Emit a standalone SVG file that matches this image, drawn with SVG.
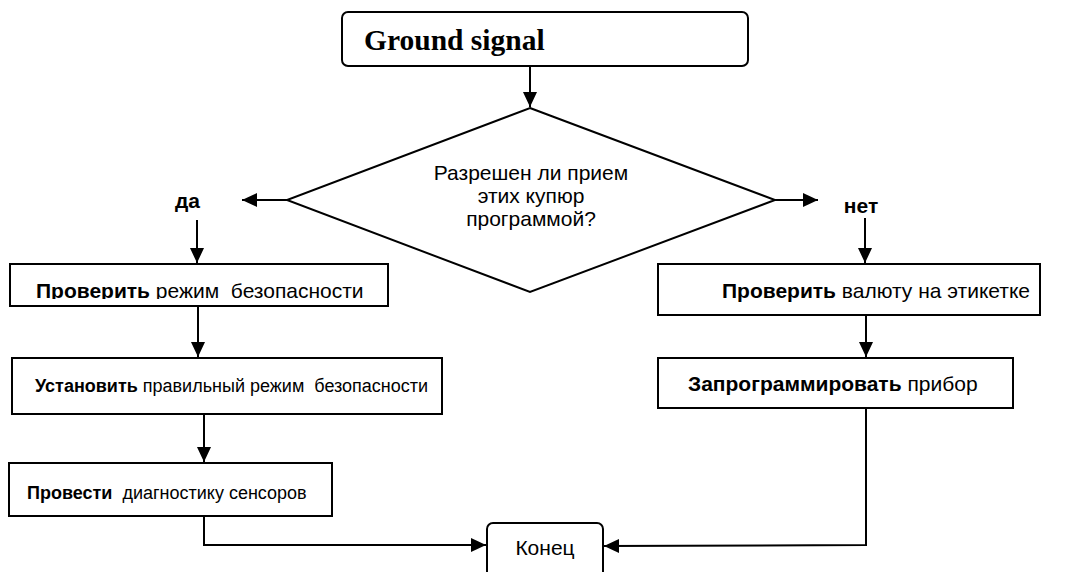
<svg xmlns="http://www.w3.org/2000/svg" width="1090" height="572" viewBox="0 0 1090 572">
<style>
.box{fill:#fff;stroke:#000;stroke-width:2}
.t{font-family:"Liberation Sans",Arial,sans-serif;font-size:21px;fill:#000;white-space:pre}
.s{font-size:18px}
.b{font-weight:bold}
.c{fill:none;stroke:#000;stroke-width:2}
</style>
<defs>
<marker id="ah" markerUnits="userSpaceOnUse" markerWidth="16" markerHeight="16" viewBox="0 0 16 16" refX="15" refY="8" orient="auto">
<path d="M0,1 L15,8 L0,15 Z" fill="#000"/>
</marker>
<clipPath id="clip1"><rect x="10" y="264" width="378" height="35"/></clipPath>
</defs>
<rect width="1090" height="572" fill="#fff"/>
<g id="start">
<rect class="box" x="342" y="12" width="406" height="54" rx="6"/>
<text x="364" y="50" font-family="'Liberation Serif','Times New Roman',serif" font-size="29.5" font-weight="bold">Ground signal</text>
</g>
<g id="decision">
<polygon class="box" points="530,108 775,200 530,292 287,200"/>
<text class="t" text-anchor="middle" x="531" y="180">Разрешен ли прием</text>
<text class="t" text-anchor="middle" x="531" y="203">этих купюр</text>
<text class="t" text-anchor="middle" x="531" y="226">программой?</text>
</g>
<g id="yes-label"><text class="t b" x="175" y="208" font-size="22">да</text></g>
<g id="no-label"><text class="t b" text-anchor="middle" x="861" y="213" font-size="22">нет</text></g>
<g id="check-security">
<rect class="box" x="10" y="264" width="378" height="42"/>
<text class="t" x="36" y="298" clip-path="url(#clip1)"><tspan class="b">Проверить</tspan> режим  безопасности</text>
</g>
<g id="set-security">
<rect class="box" x="12" y="358" width="430" height="56"/>
<text class="t s" x="35" y="392"><tspan class="b">Установить</tspan> правильный режим  безопасности</text>
</g>
<g id="diagnostics">
<rect class="box" x="9" y="463" width="323" height="53"/>
<text class="t s" x="27" y="499"><tspan class="b">Провести</tspan>  диагностику сенсоров</text>
</g>
<g id="check-currency">
<rect class="box" x="658" y="264" width="382" height="51"/>
<text class="t" x="722" y="298"><tspan class="b">Проверить</tspan> валюту на этикетке</text>
</g>
<g id="program">
<rect class="box" x="658" y="358" width="355" height="50"/>
<text class="t" x="688" y="391"><tspan class="b">Запрограммировать</tspan> прибор</text>
</g>
<g id="end">
<rect class="box" x="487" y="523" width="116" height="58" rx="6"/>
<text class="t" text-anchor="middle" x="545" y="555" font-size="22">Конец</text>
</g>
<g id="connectors">
<line class="c" x1="530" y1="66" x2="530" y2="107" marker-end="url(#ah)"/>
<line class="c" x1="287" y1="200" x2="242" y2="200" marker-end="url(#ah)"/>
<line class="c" x1="775" y1="200" x2="818" y2="200" marker-end="url(#ah)"/>
<line class="c" x1="197" y1="220" x2="197" y2="263" marker-end="url(#ah)"/>
<line class="c" x1="865" y1="218" x2="865" y2="263" marker-end="url(#ah)"/>
<line class="c" x1="198" y1="306" x2="198" y2="357" marker-end="url(#ah)"/>
<line class="c" x1="204" y1="414" x2="204" y2="462" marker-end="url(#ah)"/>
<line class="c" x1="866" y1="315" x2="866" y2="357" marker-end="url(#ah)"/>
<polyline class="c" points="204,516 204,545 486,545" marker-end="url(#ah)"/>
<polyline class="c" points="866,408 866,545 604,546" marker-end="url(#ah)"/>
</g>
</svg>
